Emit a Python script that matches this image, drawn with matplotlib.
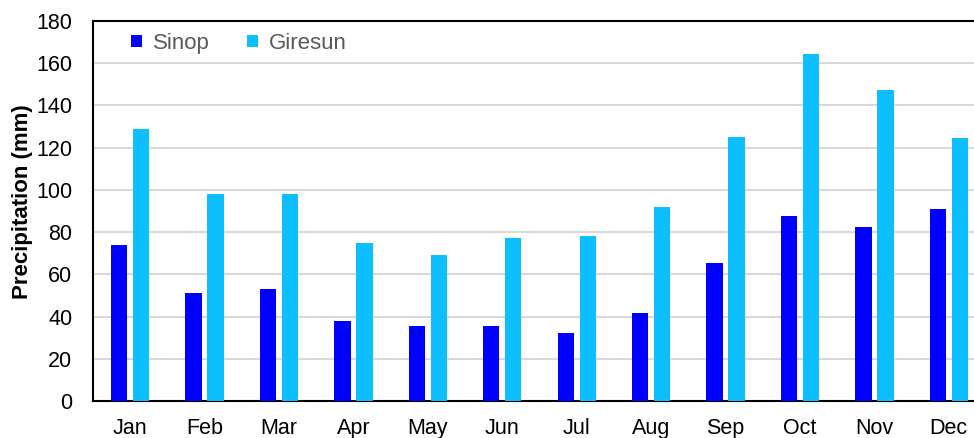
import matplotlib
matplotlib.use('Agg')
import matplotlib.pyplot as plt
import numpy as np

plt.rcParams['font.family'] = ['Liberation Sans', 'DejaVu Sans']

months = ['Jan', 'Feb', 'Mar', 'Apr', 'May', 'Jun', 'Jul', 'Aug', 'Sep', 'Oct', 'Nov', 'Dec']
sinop = [74, 51, 53, 38, 35.5, 35.5, 32, 41.5, 65.3, 87.6, 82.4, 90.8]
giresun = [128.8, 98, 98, 75, 69.2, 77, 78, 92, 125, 164.4, 147.2, 124.6]

fig = plt.figure(figsize=(9.74, 4.38), dpi=100)
ax = fig.add_axes([93 / 974, 37 / 438, 893 / 974, 380 / 438])

x = np.arange(len(months))
w = 0.22
off = 0.148
ax.bar(x - off, sinop, w, color='#0000FF', label='Sinop', zorder=3)
ax.bar(x + off, giresun, w, color='#0DBFFF', label='Giresun', zorder=3)

ax.set_xlim(-0.5, 11.5)
ax.set_ylim(0, 180)
ax.set_yticks(range(0, 181, 20))
ax.set_xticks(x)
ax.set_xticklabels(months)
ax.tick_params(axis='both', length=0, labelsize=15.5, colors='black')
ax.tick_params(axis='x', pad=12)
ax.tick_params(axis='y', pad=15)
ax.yaxis.grid(True, color='#D9D9D9', linewidth=1.5, zorder=0)

for s in ['left', 'bottom', 'top']:
    ax.spines[s].set_linewidth(1.5)
    ax.spines[s].set_color('black')
ax.spines['right'].set_visible(False)

ax.set_ylabel('Precipitation (mm)', fontsize=16, fontweight='bold')
ax.yaxis.set_label_coords(-60 / 893, 0.524)

leg = ax.legend(loc='upper left', bbox_to_anchor=(0.02, 1.021), ncol=2, frameon=False,
                fontsize=16, handlelength=0.5, handleheight=0.5, handletextpad=0.5,
                columnspacing=1.65)
for t in leg.get_texts():
    t.set_color('#595959')

fig.savefig('out.png', dpi=100)
